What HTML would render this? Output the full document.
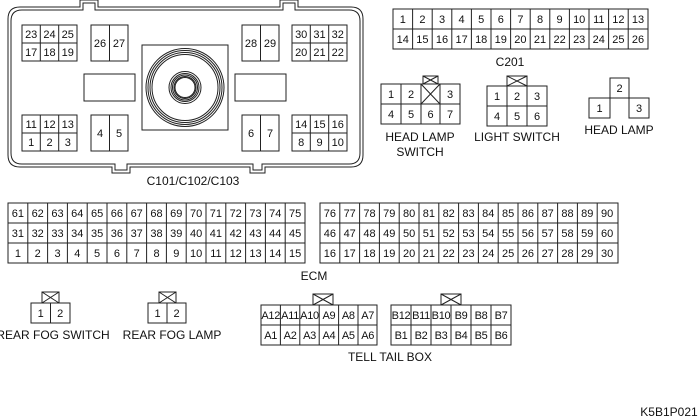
<!DOCTYPE html>
<html><head><meta charset="utf-8"><style>
html,body{margin:0;padding:0;background:#fff;}
svg{display:block;}
text{font-family:"Liberation Sans",sans-serif;font-size:11px;fill:#111;text-anchor:middle;}
.l{font-size:12px;}
</style></head><body>
<svg width="700" height="420" viewBox="0 0 700 420" xmlns="http://www.w3.org/2000/svg">
<g fill="none" stroke="#222" stroke-width="1">
<path d="M20,7 H80 V0 H98 V7 H280 V0 H298 V7 H351 Q363,7 363,19 V155 Q363,167 351,167 H265 V173 H250 V167 H130 V173 H112 V167 H20 Q8,167 8,155 V19 Q8,7 20,7 Z"/>
<path d="M22,10 H83 V3 H95 V10 H283 V3 H295 V10 H349 Q360,10 360,21 V153 Q360,164 349,164 H262 V170 H253 V164 H127 V170 H115 V164 H22 Q11,164 11,153 V21 Q11,10 22,10 Z"/>
<rect x="22" y="25" width="55" height="36"/><path d="M40.3,25V61M58.7,25V61M22,43H77"/>
<rect x="292" y="25" width="55" height="36"/><path d="M310.3,25V61M328.7,25V61M292,43H347"/>
<rect x="22" y="115" width="55" height="36"/><path d="M40.3,115V151M58.7,115V151M22,133H77"/>
<rect x="292" y="115" width="55" height="36"/><path d="M310.3,115V151M328.7,115V151M292,133H347"/>
<rect x="91" y="25" width="37" height="36"/><path d="M109.5,25V61"/>
<rect x="242" y="25" width="37" height="36"/><path d="M260.5,25V61"/>
<rect x="91" y="115" width="37" height="36"/><path d="M109.5,115V151"/>
<rect x="242" y="115" width="37" height="36"/><path d="M260.5,115V151"/>
<rect x="84" y="74" width="51" height="27"/>
<rect x="235" y="74" width="51" height="27"/>
<rect x="142" y="45" width="86" height="85"/>
<circle cx="185" cy="87.5" r="39"/><circle cx="185" cy="87.5" r="37"/><circle cx="185" cy="87.5" r="35"/><circle cx="185" cy="87.5" r="33"/>
<circle cx="185" cy="87.5" r="16"/><circle cx="185" cy="87.5" r="14"/><circle cx="185" cy="87.5" r="12.5"/><circle cx="185" cy="87.5" r="11"/><circle cx="185" cy="87.5" r="10"/>

<rect x="393" y="9" width="255" height="40"/>
<path d="M393,29H648M412.6,9V49M432.2,9V49M451.8,9V49M471.4,9V49M491,9V49M510.6,9V49M530.2,9V49M549.8,9V49M569.4,9V49M589,9V49M608.6,9V49M628.2,9V49"/>

<rect x="381" y="84" width="79" height="40"/>
<path d="M381,104H460M401,84V124M421,84V124M440,84V124M421,84L440,104M440,84L421,104"/>
<rect x="423" y="76" width="15" height="8"/><path d="M423,76L438,84M438,76L423,84"/>

<rect x="487" y="86" width="60" height="40"/>
<path d="M487,106H547M507,86V126M527,86V126"/>
<rect x="507" y="76" width="20" height="10"/><path d="M507,76L527,86M527,76L507,86"/>

<rect x="610" y="78" width="19" height="20"/>
<rect x="589" y="98" width="21" height="20"/>
<rect x="629" y="98" width="20" height="20"/>

<rect x="8" y="203" width="297" height="60"/>
<path d="M8,223H305M8,243H305M27.8,203V263M47.6,203V263M67.4,203V263M87.2,203V263M107,203V263M126.8,203V263M146.6,203V263M166.4,203V263M186.2,203V263M206,203V263M225.8,203V263M245.6,203V263M265.4,203V263M285.2,203V263"/>
<rect x="320" y="203" width="298" height="60"/>
<path d="M320,223H618M320,243H618M339.8,203V263M359.6,203V263M379.4,203V263M399.2,203V263M419,203V263M438.8,203V263M458.6,203V263M478.4,203V263M498.2,203V263M518,203V263M537.8,203V263M557.6,203V263M577.4,203V263M597.2,203V263"/>

<rect x="31" y="303" width="39" height="20"/><path d="M50.5,303V323"/>
<rect x="42" y="292" width="17" height="11"/><path d="M42,292L59,303M59,292L42,303"/>
<rect x="148" y="303" width="38" height="20"/><path d="M167,303V323"/>
<rect x="159" y="292" width="17" height="11"/><path d="M159,292L176,303M176,292L159,303"/>

<rect x="261" y="305" width="116" height="40"/>
<path d="M261,325H377M280.4,305V345M299.8,305V345M319.2,305V345M338.6,305V345M358,305V345"/>
<rect x="313" y="294" width="20" height="11"/><path d="M313,294L333,305M333,294L313,305"/>
<rect x="391" y="305" width="120" height="40"/>
<path d="M391,325H511M411,305V345M431,305V345M451,305V345M471,305V345M491,305V345"/>
<rect x="441" y="294" width="20" height="11"/><path d="M441,294L461,305M461,294L441,305"/>
</g>

<g>
<text x="31.2" y="38">23</text><text x="49.5" y="38">24</text><text x="67.8" y="38">25</text>
<text x="31.2" y="56">17</text><text x="49.5" y="56">18</text><text x="67.8" y="56">19</text>
<text x="301.2" y="38">30</text><text x="319.5" y="38">31</text><text x="337.8" y="38">32</text>
<text x="301.2" y="56">20</text><text x="319.5" y="56">21</text><text x="337.8" y="56">22</text>
<text x="31.2" y="128">11</text><text x="49.5" y="128">12</text><text x="67.8" y="128">13</text>
<text x="31.2" y="146">1</text><text x="49.5" y="146">2</text><text x="67.8" y="146">3</text>
<text x="301.2" y="128">14</text><text x="319.5" y="128">15</text><text x="337.8" y="128">16</text>
<text x="301.2" y="146">8</text><text x="319.5" y="146">9</text><text x="337.8" y="146">10</text>
<text x="100" y="47">26</text><text x="119" y="47">27</text>
<text x="251" y="47">28</text><text x="270" y="47">29</text>
<text x="100" y="137">4</text><text x="119" y="137">5</text>
<text x="251" y="137">6</text><text x="270" y="137">7</text>
<text class="l" x="193" y="185">C101/C102/C103</text>

<text x="402.8" y="23">1</text><text x="422.4" y="23">2</text><text x="442" y="23">3</text><text x="461.6" y="23">4</text><text x="481.2" y="23">5</text><text x="500.8" y="23">6</text><text x="520.4" y="23">7</text><text x="540" y="23">8</text><text x="559.6" y="23">9</text><text x="579.2" y="23">10</text><text x="598.8" y="23">11</text><text x="618.4" y="23">12</text><text x="638" y="23">13</text>
<text x="402.8" y="43">14</text><text x="422.4" y="43">15</text><text x="442" y="43">16</text><text x="461.6" y="43">17</text><text x="481.2" y="43">18</text><text x="500.8" y="43">19</text><text x="520.4" y="43">20</text><text x="540" y="43">21</text><text x="559.6" y="43">22</text><text x="579.2" y="43">23</text><text x="598.8" y="43">24</text><text x="618.4" y="43">25</text><text x="638" y="43">26</text>
<text class="l" x="510" y="66">C201</text>

<text x="391" y="98">1</text><text x="411" y="98">2</text><text x="450" y="98">3</text>
<text x="391" y="118">4</text><text x="411" y="118">5</text><text x="430.5" y="118">6</text><text x="450" y="118">7</text>
<text class="l" x="420" y="141">HEAD LAMP</text><text class="l" x="420" y="156">SWITCH</text>

<text x="497" y="100">1</text><text x="517" y="100">2</text><text x="537" y="100">3</text>
<text x="497" y="120">4</text><text x="517" y="120">5</text><text x="537" y="120">6</text>
<text class="l" x="517" y="141">LIGHT SWITCH</text>

<text x="619.5" y="92">2</text><text x="599.5" y="112">1</text><text x="639" y="112">3</text>
<text class="l" x="619" y="134">HEAD LAMP</text>

<text x="17.9" y="217">61</text><text x="37.7" y="217">62</text><text x="57.5" y="217">63</text><text x="77.3" y="217">64</text><text x="97.1" y="217">65</text><text x="116.9" y="217">66</text><text x="136.7" y="217">67</text><text x="156.5" y="217">68</text><text x="176.3" y="217">69</text><text x="196.1" y="217">70</text><text x="215.9" y="217">71</text><text x="235.7" y="217">72</text><text x="255.5" y="217">73</text><text x="275.3" y="217">74</text><text x="295.1" y="217">75</text>
<text x="17.9" y="237">31</text><text x="37.7" y="237">32</text><text x="57.5" y="237">33</text><text x="77.3" y="237">34</text><text x="97.1" y="237">35</text><text x="116.9" y="237">36</text><text x="136.7" y="237">37</text><text x="156.5" y="237">38</text><text x="176.3" y="237">39</text><text x="196.1" y="237">40</text><text x="215.9" y="237">41</text><text x="235.7" y="237">42</text><text x="255.5" y="237">43</text><text x="275.3" y="237">44</text><text x="295.1" y="237">45</text>
<text x="17.9" y="257">1</text><text x="37.7" y="257">2</text><text x="57.5" y="257">3</text><text x="77.3" y="257">4</text><text x="97.1" y="257">5</text><text x="116.9" y="257">6</text><text x="136.7" y="257">7</text><text x="156.5" y="257">8</text><text x="176.3" y="257">9</text><text x="196.1" y="257">10</text><text x="215.9" y="257">11</text><text x="235.7" y="257">12</text><text x="255.5" y="257">13</text><text x="275.3" y="257">14</text><text x="295.1" y="257">15</text>
<text x="329.9" y="217">76</text><text x="349.7" y="217">77</text><text x="369.5" y="217">78</text><text x="389.3" y="217">79</text><text x="409.1" y="217">80</text><text x="428.9" y="217">81</text><text x="448.7" y="217">82</text><text x="468.5" y="217">83</text><text x="488.3" y="217">84</text><text x="508.1" y="217">85</text><text x="527.9" y="217">86</text><text x="547.7" y="217">87</text><text x="567.5" y="217">88</text><text x="587.3" y="217">89</text><text x="607.1" y="217">90</text>
<text x="329.9" y="237">46</text><text x="349.7" y="237">47</text><text x="369.5" y="237">48</text><text x="389.3" y="237">49</text><text x="409.1" y="237">50</text><text x="428.9" y="237">51</text><text x="448.7" y="237">52</text><text x="468.5" y="237">53</text><text x="488.3" y="237">54</text><text x="508.1" y="237">55</text><text x="527.9" y="237">56</text><text x="547.7" y="237">57</text><text x="567.5" y="237">58</text><text x="587.3" y="237">59</text><text x="607.1" y="237">60</text>
<text x="329.9" y="257">16</text><text x="349.7" y="257">17</text><text x="369.5" y="257">18</text><text x="389.3" y="257">19</text><text x="409.1" y="257">20</text><text x="428.9" y="257">21</text><text x="448.7" y="257">22</text><text x="468.5" y="257">23</text><text x="488.3" y="257">24</text><text x="508.1" y="257">25</text><text x="527.9" y="257">26</text><text x="547.7" y="257">27</text><text x="567.5" y="257">28</text><text x="587.3" y="257">29</text><text x="607.1" y="257">30</text>
<text class="l" x="314" y="280">ECM</text>

<text x="40.7" y="317">1</text><text x="60.2" y="317">2</text>
<text class="l" x="53" y="339">REAR FOG SWITCH</text>
<text x="157.5" y="317">1</text><text x="176.5" y="317">2</text>
<text class="l" x="172" y="339">REAR FOG LAMP</text>

<g style="font-size:9.5px;letter-spacing:-0.3px">
<text x="270.7" y="319">A12</text><text x="290.1" y="319">A11</text><text x="309.5" y="319">A10</text><text x="328.9" y="319">A9</text><text x="348.3" y="319">A8</text><text x="367.7" y="319">A7</text>
<text x="270.7" y="339">A1</text><text x="290.1" y="339">A2</text><text x="309.5" y="339">A3</text><text x="328.9" y="339">A4</text><text x="348.3" y="339">A5</text><text x="367.7" y="339">A6</text>
<text x="401" y="319">B12</text><text x="421" y="319">B11</text><text x="441" y="319">B10</text><text x="461" y="319">B9</text><text x="481" y="319">B8</text><text x="501" y="319">B7</text>
<text x="401" y="339">B1</text><text x="421" y="339">B2</text><text x="441" y="339">B3</text><text x="461" y="339">B4</text><text x="481" y="339">B5</text><text x="501" y="339">B6</text>
</g>
<text class="l" x="390" y="361">TELL TAIL BOX</text>
<text class="l" x="669" y="416">K5B1P021</text>
</g>
</svg>
</body></html>
